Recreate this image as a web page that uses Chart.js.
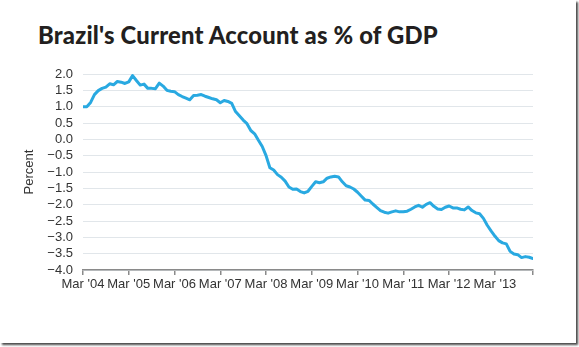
<!DOCTYPE html>
<html>
<head>
<meta charset="utf-8">
<script src="https://cdn.jsdelivr.net/npm/chart.js@4.4.1/dist/chart.umd.min.js"></script>
<style>
  html, body { margin: 0; padding: 0; background: #ffffff; }
  #frame {
    position: absolute; left: 0; top: 0; width: 576px; height: 343px;
    background: #ffffff;
    box-shadow: 2px 2px 2px 0px #4a4a4a;
  }
  #title {
    position: absolute; left: 38px; top: 21px;
    font-family: "Lato", "Liberation Sans", sans-serif;
    font-weight: 900; font-size: 23.8px; color: #231f20;
    white-space: nowrap; letter-spacing: 0.2px;
  }
  #wrap { position: absolute; left: 0; top: 0; width: 576px; height: 343px; }
</style>
</head>
<body>
<div id="frame"></div>
<div id="title">Brazil's Current Account as % of GDP</div>
<div id="wrap"><canvas id="chart" width="576" height="343"></canvas></div>
<script>
// Monthly current account balance, % of GDP, starting March 2004
const values = [
  1.00, 1.00, 1.13, 1.37, 1.49, 1.56, 1.60, 1.70, 1.67, 1.77, 1.75, 1.71,
  1.76, 1.95, 1.80, 1.66, 1.69, 1.56, 1.56, 1.55, 1.72, 1.63, 1.50, 1.47,
  1.46, 1.37, 1.31, 1.26, 1.21, 1.34, 1.35, 1.37, 1.32, 1.28, 1.24, 1.21,
  1.12, 1.19, 1.16, 1.10, 0.85, 0.72, 0.59, 0.48, 0.27, 0.17, -0.03, -0.22,
  -0.50, -0.87, -0.94, -1.08, -1.16, -1.28, -1.46, -1.53, -1.52, -1.60, -1.64, -1.59,
  -1.44, -1.30, -1.33, -1.30, -1.19, -1.15, -1.13, -1.15, -1.30, -1.42, -1.46, -1.52,
  -1.62, -1.74, -1.86, -1.87, -1.98, -2.08, -2.18, -2.23, -2.26, -2.22, -2.19, -2.22,
  -2.22, -2.20, -2.14, -2.07, -2.02, -2.08, -1.99, -1.94, -2.05, -2.13, -2.15, -2.08,
  -2.04, -2.10, -2.10, -2.14, -2.16, -2.07, -2.18, -2.25, -2.28, -2.42, -2.63, -2.80,
  -2.96, -3.10, -3.17, -3.20, -3.43, -3.51, -3.53, -3.62, -3.59, -3.61, -3.65
];

// x-axis tick labels, one per March
const tickLabels = ["Mar '04", "Mar '05", "Mar '06", "Mar '07", "Mar '08",
                    "Mar '09", "Mar '10", "Mar '11", "Mar '12", "Mar '13"];

// month offsets (from March 2004) that carry a tick mark; the last one closes the axis
const tickMonths = [0, 12, 24, 36, 48, 60, 72, 84, 96, 108, 118];

const points = values.map((v, i) => ({ x: i, y: v }));

const axisFont = { family: "'Liberation Sans', Arial, sans-serif", size: 13 };

new Chart(document.getElementById('chart'), {
  type: 'line',
  data: {
    datasets: [{
      data: points,
      borderColor: '#29a9e1',
      borderWidth: 3,
      pointRadius: 0,
      tension: 0,
      fill: false,
      borderJoinStyle: 'round',
      borderCapStyle: 'round'
    }]
  },
  options: {
    responsive: false,
    animation: false,
    devicePixelRatio: 1,
    layout: { padding: { top: 74, right: 43, bottom: 43, left: 0 } },
    plugins: { legend: { display: false }, tooltip: { enabled: false }, title: { display: false } },
    scales: {
      x: {
        type: 'linear',
        min: 0,
        max: tickMonths[tickMonths.length - 1],
        afterBuildTicks: s => { s.ticks = tickMonths.map(m => ({ value: m })); },
        afterFit: s => { s.height = 30; },
        ticks: {
          autoSkip: false,
          maxRotation: 0,
          padding: 2,
          color: '#333333',
          font: axisFont,
          callback: v => (v % 12 === 0 ? tickLabels[v / 12] : '')
        },
        grid: { drawOnChartArea: false, drawTicks: true, tickLength: 5, color: '#8a8a8a', lineWidth: 1.5 },
        border: { display: true, color: '#8a8a8a', width: 1.5 }
      },
      y: {
        min: -4,
        max: 2,
        afterFit: s => { s.width = 83; },
        ticks: {
          stepSize: 0.5,
          autoSkip: false,
          padding: 10,
          color: '#333333',
          font: { family: "'Liberation Sans', Arial, sans-serif", size: 13 },
          callback: v => (v < 0 ? '\u2212' : '') + Math.abs(v).toFixed(1)
        },
        grid: { color: '#e1e6ea', lineWidth: 1, drawTicks: false },
        border: { display: false },
        title: {
          display: true,
          text: 'Percent',
          color: '#333333',
          font: { family: "'Liberation Sans', Arial, sans-serif", size: 13 },
          padding: { top: 22, bottom: 0 }
        }
      }
    }
  }
});
</script>
</body>
</html>
